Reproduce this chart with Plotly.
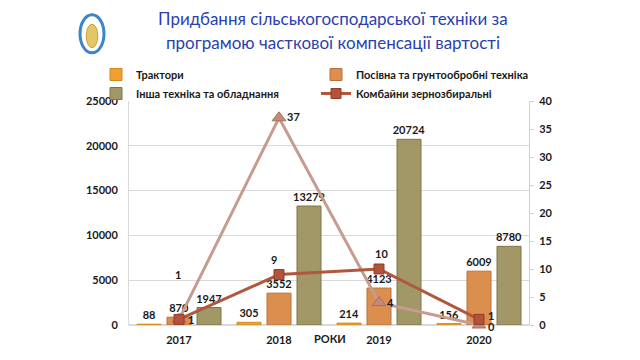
import plotly.graph_objects as go

years = ["2017", "2018", "2019", "2020"]
tractors = [88, 305, 214, 156]
seeding = [870, 3552, 4123, 6009]
other = [1947, 13279, 20724, 8780]
combines = [1, 9, 10, 1]
series5 = [1, 37, 4, 0]

names = ["Трактори", "Посівна та грунтообробні техніка", "Інша техніка та обладнання",
         "Комбайни зернозбиральні"]
title_lines = ["Придбання сільськогосподарської техніки за",
               "програмою часткової компенсації вартості"]
x_title = "РОКИ"

FONT = "Lato, Carlito, Calibri, sans-serif"
lab_font = dict(family=FONT, size=11, color="#1a1a1a", weight="bold")

fig = go.Figure()
bar_common = dict(textposition="outside", textfont=lab_font, cliponaxis=False,
                  constraintext="none")
fig.add_trace(go.Bar(x=years, y=tractors, name=names[0], legend="legend",
                     marker=dict(color="#F0A030", line=dict(color="#D48A1E", width=1)),
                     text=tractors, **bar_common))
fig.add_trace(go.Bar(x=years, y=seeding, name=names[1], legend="legend2",
                     marker=dict(color="#DB8E4E", line=dict(color="#B8733A", width=1)),
                     text=seeding, **bar_common))
fig.add_trace(go.Bar(x=years, y=other, name=names[2], legend="legend",
                     marker=dict(color="#A29767", line=dict(color="#7E7448", width=1)),
                     text=other, **bar_common))
fig.add_trace(go.Scatter(x=years, y=series5, name="Серія 5", yaxis="y2", showlegend=False,
                         mode="lines+markers",
                         line=dict(color="#C69C8F", width=3),
                         marker=dict(symbol="triangle-up", size=12, color="#C48A78",
                                     line=dict(color="#A86F5E", width=1)),
                         cliponaxis=False))
fig.add_trace(go.Scatter(x=years, y=combines, name=names[3], yaxis="y2", legend="legend2",
                         mode="lines+markers",
                         line=dict(color="#B0583B", width=3),
                         marker=dict(symbol="square", size=10, color="#B5533A",
                                     line=dict(color="#8E3C26", width=1)),
                         cliponaxis=False))

ann = []
comb_shift = [(12, 0), (-5, 15), (2, 16), (12, 4)]
for i, (v, (dx, dy)) in enumerate(zip(combines, comb_shift)):
    ann.append(dict(x=i, y=v, xref="x", yref="y2", text=str(v), showarrow=False,
                    xshift=dx, yshift=dy, font=lab_font))
s5_shift = [(-1, 45), (14, 1), (11, 0), (12, -1)]
for i, (v, (dx, dy)) in enumerate(zip(series5, s5_shift)):
    ann.append(dict(x=i, y=v, xref="x", yref="y2", text=str(v), showarrow=False,
                    xshift=dx, yshift=dy, font=lab_font))
ann.append(dict(x=0.5025, y=-0.098, xref="paper", yref="paper", text=x_title,
                showarrow=False, font=lab_font))
for line, ypos in zip(title_lines, [1.3705, 1.259]):
    ann.append(dict(x=0.51, y=ypos, xref="paper", yref="paper", xanchor="center",
                    yanchor="middle", text=line, showarrow=False,
                    font=dict(family=FONT, size=17, color="#2A3FB0")))

shapes = [
    dict(type="circle", xref="paper", yref="paper", x0=-0.1225, x1=-0.0625, y0=1.215, y1=1.385,
         line=dict(color="#3A86C8", width=3), fillcolor="#FFFFFF", layer="above"),
    dict(type="circle", xref="paper", yref="paper", x0=-0.107, x1=-0.078, y0=1.238, y1=1.343,
         line=dict(color="#C9A23A", width=1), fillcolor="#E3C766", layer="above"),
]

fig.update_layout(
    width=632, height=352,
    margin=dict(l=121, r=111, t=93, b=35, autoexpand=False),
    paper_bgcolor="white", plot_bgcolor="white",
    barmode="group", bargap=0.1, bargroupgap=0.2,
    font=dict(family=FONT, size=11, color="#1a1a1a"),
    xaxis=dict(type="category", categoryorder="array", categoryarray=years,
               range=[-0.5, len(years) - 0.5], ticklabelstandoff=7,
               showgrid=False, ticks="", showline=False, tickfont=lab_font),
    yaxis=dict(range=[0, 25000], dtick=5000, tickformat="d", showgrid=True, gridcolor="#D9D9D9",
               showline=True, linecolor="#D9D9D9", zeroline=True, zerolinecolor="#D9D9D9",
               tickfont=lab_font, ticks="", ticklabelstandoff=8),
    yaxis2=dict(range=[0, 40], dtick=5, overlaying="y", side="right", showgrid=False,
                showline=True, linecolor="#D0D0D0", ticks="outside", ticklen=4,
                tickcolor="#D0D0D0", tickfont=lab_font, zeroline=False, ticklabelstandoff=3),
    legend=dict(x=-0.0825, y=1.183, xanchor="left", yanchor="top", orientation="v",
                font=lab_font, bgcolor="rgba(0,0,0,0)", tracegroupgap=0),
    legend2=dict(x=0.4675, y=1.183, xanchor="left", yanchor="top", orientation="v",
                 font=lab_font, bgcolor="rgba(0,0,0,0)", tracegroupgap=0),
    annotations=ann, shapes=shapes,
)

fig.write_html("out.html")
